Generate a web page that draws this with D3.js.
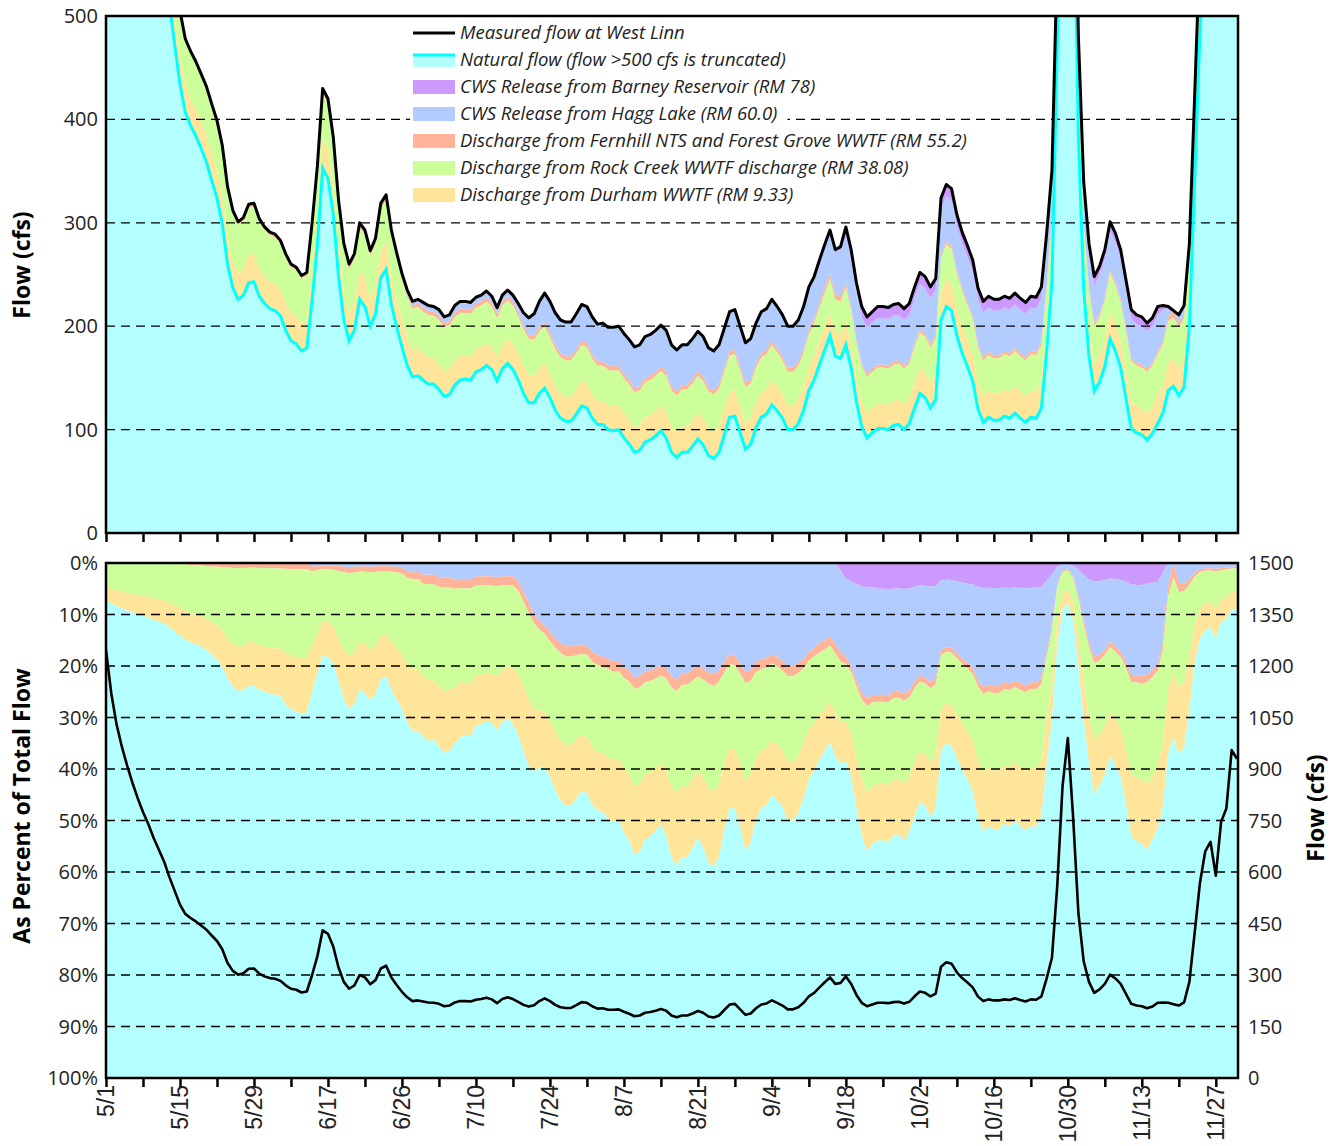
<!DOCTYPE html>
<html>
<head>
<meta charset="utf-8">
<script src="https://cdn.jsdelivr.net/npm/d3@7"></script>
<style>
body { margin: 0; background: #fff; }
svg { display: block; }
</style>
</head>
<body>
<svg></svg>
<script>
// daily values, 5/1 .. 12/1 (cfs)
var measured = [
  1247,1120,1030,965,910,860,815,775,740,700,
  665,630,585,545,505,478,466,456,444,432,
  415,399,375,335,312,301,305,318,319,304,
  296,291,289,283,270,260,257,249,252,300,
  355,430,420,383,322,280,260,270,300,293,
  273,285,319,327,293,271,251,235,224,226,
  223,220,219,216,209,211,220,224,224,223,
  228,230,234,229,218,230,235,230,222,213,
  208,212,224,232,224,213,206,204,204,212,
  221,219,209,202,203,199,199,200,193,187,
  180,182,190,192,196,201,196,182,177,182,
  182,188,195,190,179,176,182,198,214,216,
  200,184,188,203,214,217,226,219,211,200,
  200,206,219,238,248,264,279,293,274,277,
  296,274,242,219,209,214,219,219,218,221,
  222,217,222,238,252,248,238,246,324,337,
  333,308,291,278,264,237,224,229,226,226,
  229,227,232,227,223,229,228,238,290,351,
  560,850,990,760,480,340,280,248,258,274,
  301,290,274,245,216,211,209,203,208,219,
  220,219,215,211,220,280,423,568,660,688,
  589,746,785,955,930
];

var durham = [
  32,32,31,31,31,30,30,30,29,29,29,28,28,28,27,
  27,26,26,26,26,26,27,27,26,26,26,26,27,27,26,
  26,26,26,26,27,27,27,27,27,27,28,29,29,28,27,
  27,27,27,28,28,27,27,27,27,27,27,27,27,27,27,
  26,26,25,25,25,25,24,24,23,23,22,22,22,22,23,
  23,24,25,26,27,27,26,25,25,24,24,24,24,24,24,
  24,24,23,23,23,24,24,24,24,24,24,24,24,24,24,
  24,25,25,25,25,25,25,25,26,26,26,26,26,25,25,
  25,25,25,24,24,24,24,24,23,23,23,23,23,23,23,
  23,23,23,23,23,23,23,23,24,24,24,24,24,24,24,
  24,24,24,25,25,25,25,25,26,26,26,26,26,26,26,
  26,26,26,26,26,26,26,26,26,26,26,26,26,26,26,
  26,26,26,26,26,26,26,26,26,26,26,26,26,26,26,
  26,26,26,26,27,27,27,27,27,28,29,31,33,34,34,
  34,33,33,33,32
];

var rockCreek = [
  57,56,55,54,53,52,51,50,49,48,47,46,45,45,44,
  44,44,44,44,44,45,45,46,46,46,46,46,46,46,46,
  45,45,45,44,44,44,44,43,43,43,43,43,43,42,42,
  42,42,42,41,41,41,41,40,40,40,40,39,39,39,40,
  40,41,41,42,42,42,42,41,41,41,40,40,40,39,38,
  38,37,37,36,35,35,35,35,35,35,35,35,35,35,35,
  35,35,35,34,34,34,34,34,34,34,34,34,34,34,34,
  34,35,35,35,36,36,36,36,36,36,36,36,35,35,35,
  35,35,34,34,34,34,34,33,33,33,33,33,32,32,32,
  32,32,32,32,32,33,33,34,34,35,35,35,35,35,35,
  35,35,34,34,34,34,34,34,34,34,34,34,34,34,34,
  34,34,34,34,34,34,34,34,34,34,35,35,35,35,35,
  36,36,36,36,37,37,37,37,37,38,38,38,38,39,39,
  39,39,40,40,40,40,40,40,39,39,39,40,41,42,42,
  43,43,43,42,42
];

var fernhill = [
  0,0,0,0,0,0,0,0,0,0,0,0,0,0,0,
  0,2,2,2,3,3,3,3,3,3,3,3,3,3,3,
  3,3,3,3,3,3,3,3,3,3,3,3,3,3,3,
  3,3,3,3,3,3,3,3,3,3,3,3,3,3,3,
  4,4,4,4,4,4,4,4,4,4,4,4,4,4,4,
  4,4,4,4,4,4,4,4,4,4,4,4,4,4,4,
  4,4,4,4,4,4,4,4,4,4,4,4,4,4,4,
  4,4,4,4,4,4,4,4,4,4,4,4,4,4,4,
  4,4,4,4,4,4,4,4,4,4,4,4,4,4,4,
  5,5,5,5,5,4,3,3,3,3,3,3,3,3,3,
  3,3,3,3,3,3,3,3,3,3,3,3,3,3,3,
  3,3,3,3,3,3,3,3,3,3,3,3,3,3,3,
  3,3,3,3,3,3,3,3,3,3,3,3,3,3,3,
  3,3,3,3,3,3,4,6,4,3,3,3,3,3,3,
  3,3,3,3,3
];

var haggLake = [
  0,0,0,0,0,0,0,0,0,0,0,0,0,0,0,
  0,0,0,0,0,0,0,0,0,0,0,0,0,0,0,
  0,0,0,0,0,0,0,0,0,2,2,2,2,2,2,
  2,2,2,2,2,2,2,2,2,2,2,2,4,4,4,
  5,5,5,6,6,6,7,7,7,7,6,6,6,6,6,
  6,6,6,8,12,16,21,25,28,30,31,32,33,33,34,
  35,35,36,36,37,37,38,38,39,39,40,40,40,40,40,
  40,40,40,40,39,39,39,39,39,38,38,38,38,38,39,
  39,39,39,39,40,40,40,40,40,40,40,40,41,41,41,
  41,42,42,43,44,45,45,45,45,45,45,45,45,45,44,
  44,44,44,44,44,44,44,44,44,44,44,43,43,43,43,
  43,43,43,43,43,42,42,42,42,42,42,42,42,40,35,
  20,10,10,15,25,30,34,36,37,37,37,38,38,38,38,
  37,37,36,35,35,30,10,0,8,9,9,8,7,7,7,
  7,7,7,7,7
];

var barneyRes = [
  0,0,0,0,0,0,0,0,0,0,0,0,0,0,0,
  0,0,0,0,0,0,0,0,0,0,0,0,0,0,0,
  0,0,0,0,0,0,0,0,0,0,0,0,0,0,0,
  0,0,0,0,0,0,0,0,0,0,0,0,0,0,0,
  0,0,0,0,0,0,0,0,0,0,0,0,0,0,0,
  0,0,0,0,0,0,0,0,0,0,0,0,0,0,0,
  0,0,0,0,0,0,0,0,0,0,0,0,0,0,0,
  0,0,0,0,0,0,0,0,0,0,0,0,0,0,0,
  0,0,0,0,0,0,0,0,0,0,0,0,0,0,0,
  0,0,0,0,4,9,10,10,10,10,10,11,11,11,11,
  11,11,11,11,11,11,11,11,11,11,11,11,11,11,11,
  11,11,11,11,11,11,11,11,11,11,11,11,11,10,8,
  4,2,2,4,6,8,9,9,9,9,9,9,9,9,9,
  9,9,8,8,8,4,0,0,0,0,0,0,0,0,0,
  0,0,0,0,0
];

var dateLabels = ["5/1","5/15","5/29","6/17","6/26","7/10","7/24","8/7",
                  "8/21","9/4","9/18","10/2","10/16","10/30","11/13","11/27"];
var flowTicks = [0, 100, 200, 300, 400, 500];
var pctTicks = [0, 10, 20, 30, 40, 50, 60, 70, 80, 90, 100];
var rightTicks = [0, 150, 300, 450, 600, 750, 900, 1050, 1200, 1350, 1500];
var legendLabels = [
  "Measured flow at West Linn",
  "Natural flow (flow >500 cfs is truncated)",
  "CWS Release from Barney Reservoir (RM 78)",
  "CWS Release from Hagg Lake (RM 60.0)",
  "Discharge from Fernhill NTS and Forest Grove WWTF (RM 55.2)",
  "Discharge from Rock Creek WWTF discharge (RM 38.08)",
  "Discharge from Durham WWTF (RM 9.33)"
];

var colors = {
  nat: "#b3ffff", natLine: "#00ffff", barney: "#cc99ff", hagg: "#b3ccff",
  fern: "#ffb399", rock: "#ccff99", dur: "#ffe599"
};

var left = 106, right = 1238;
var top1 = 16, bot1 = 533, top2 = 563, bot2 = 1078;

var svg = d3.select("svg").attr("width", 1339).attr("height", 1146)
    .style("font-family", "'Open Sans', sans-serif");

var rows = measured.map(function (m, i) {
    var r = { total: m, dur: durham[i], rock: rockCreek[i], fern: fernhill[i],
              hagg: haggLake[i], barney: barneyRes[i] };
    r.nat = m - r.dur - r.rock - r.fern - r.hagg - r.barney;
    return r;
});
var pctRows = rows.map(function (r) {
    var o = {};
    ["nat","dur","rock","fern","hagg","barney"].forEach(function (k) { o[k] = r[k] / r.total * 100; });
    return o;
});

var x = d3.scaleLinear().domain([0, 214.2]).range([left, right]);
var yTop = d3.scaleLinear().domain([0, 500]).range([bot1, top1]);
var yPct = d3.scaleLinear().domain([0, 100]).range([top2, bot2]);
var yRight = d3.scaleLinear().domain([0, 1500]).range([bot2, top2]);

var defs = svg.append("defs");
defs.append("clipPath").attr("id", "clipTop").append("rect")
    .attr("x", left).attr("y", top1).attr("width", right - left).attr("height", bot1 - top1);
defs.append("clipPath").attr("id", "clipBot").append("rect")
    .attr("x", left).attr("y", top2).attr("width", right - left).attr("height", bot2 - top2);

// ---------- top panel: flows ----------
var topKeys = ["nat", "dur", "rock", "fern", "hagg", "barney"];
var topStack = d3.stack().keys(topKeys)(rows);
var gTop = svg.append("g").attr("clip-path", "url(#clipTop)");

var areaTop = d3.area()
    .x(function (d, i) { return x(i); })
    .y0(function (d) { return yTop(d[0]); })
    .y1(function (d) { return yTop(d[1]); });

gTop.selectAll("path.layer")
    .data(topStack)
    .enter()
    .append("path")
    .attr("class", "layer")
    .attr("d", areaTop)
    .style("fill", function (d) { return colors[d.key]; });

gTop.selectAll("line.grid")
    .data(flowTicks.slice(1, -1))
    .enter()
    .append("line")
    .attr("x1", left).attr("x2", right)
    .attr("y1", function (d) { return yTop(d); })
    .attr("y2", function (d) { return yTop(d); })
    .style("stroke", "#000").style("stroke-width", 1.3).style("stroke-dasharray", "9,6");

gTop.append("path")
    .datum(rows)
    .attr("d", d3.line().x(function (d, i) { return x(i); }).y(function (d) { return yTop(d.nat); }))
    .style("fill", "none").style("stroke", colors.natLine).style("stroke-width", 3);

gTop.append("path")
    .datum(rows)
    .attr("d", d3.line().x(function (d, i) { return x(i); }).y(function (d) { return yTop(d.total); }))
    .style("fill", "none").style("stroke", "#000").style("stroke-width", 3)
    .style("stroke-linejoin", "round");

// ---------- bottom panel: percent ----------
var botKeys = ["barney", "hagg", "fern", "rock", "dur", "nat"];
var botStack = d3.stack().keys(botKeys)(pctRows);
var gBot = svg.append("g").attr("clip-path", "url(#clipBot)");

var areaBot = d3.area()
    .x(function (d, i) { return x(i); })
    .y0(function (d) { return yPct(d[0]); })
    .y1(function (d) { return yPct(d[1]); });

gBot.selectAll("path.layer")
    .data(botStack)
    .enter()
    .append("path")
    .attr("class", "layer")
    .attr("d", areaBot)
    .style("fill", function (d) { return colors[d.key]; });

gBot.selectAll("line.grid")
    .data(pctTicks.slice(1, -1))
    .enter()
    .append("line")
    .attr("x1", left).attr("x2", right)
    .attr("y1", function (d) { return yPct(d); })
    .attr("y2", function (d) { return yPct(d); })
    .style("stroke", "#000").style("stroke-width", 1.3).style("stroke-dasharray", "9,6");

gBot.append("path")
    .datum(rows)
    .attr("d", d3.line().x(function (d, i) { return x(i); }).y(function (d) { return yRight(d.total); }))
    .style("fill", "none").style("stroke", "#000").style("stroke-width", 2.6)
    .style("stroke-linejoin", "round");

// ---------- frames, axes ----------
[[top1, bot1], [top2, bot2]].forEach(function (p) {
    svg.append("rect")
        .attr("x", left).attr("y", p[0]).attr("width", right - left).attr("height", p[1] - p[0])
        .style("fill", "none").style("stroke", "#000").style("stroke-width", 2.5);
});

var weekTicks = d3.range(0, 211, 7);
[bot1, bot2].forEach(function (yb) {
    svg.append("g")
        .attr("transform", "translate(0," + yb + ")")
        .call(d3.axisBottom(x).tickValues(weekTicks).tickSize(9).tickFormat(""))
        .call(function (g) {
            g.select(".domain").remove();
            g.selectAll("line").style("stroke", "#000").style("stroke-width", 2.5);
        });
});

svg.selectAll("text.xlab")
    .data(dateLabels)
    .enter()
    .append("text")
    .attr("class", "xlab")
    .attr("transform", function (d, i) { return "translate(" + (x(i * 14) + 8) + "," + (bot2 + 7) + ") rotate(-90)"; })
    .attr("text-anchor", "end")
    .style("font-family", "'Liberation Sans', Arial, sans-serif")
    .style("font-size", "23px").style("fill", "#222")
    .text(function (d) { return d; });

svg.selectAll("text.ytop")
    .data(flowTicks)
    .enter()
    .append("text")
    .attr("x", 98).attr("y", function (d) { return yTop(d) + 7; })
    .attr("text-anchor", "end").style("font-size", "20px").style("fill", "#222")
    .text(function (d) { return d; });

svg.selectAll("text.ypct")
    .data(pctTicks)
    .enter()
    .append("text")
    .attr("x", 98).attr("y", function (d) { return yPct(d) + 7; })
    .attr("text-anchor", "end").style("font-size", "20px").style("fill", "#222")
    .text(function (d) { return d + "%"; });

svg.selectAll("text.yright")
    .data(rightTicks)
    .enter()
    .append("text")
    .attr("x", 1248).attr("y", function (d) { return yRight(d) + 7; })
    .attr("text-anchor", "start").style("font-size", "20px").style("fill", "#222")
    .text(function (d) { return d; });

function axisTitle(txt, cx, cy) {
    svg.append("text")
        .attr("transform", "translate(" + cx + "," + cy + ") rotate(-90)")
        .attr("text-anchor", "middle")
        .style("font-size", "23px").style("font-weight", "bold").style("fill", "#000")
        .text(txt);
}
axisTitle("Flow (cfs)", 30, 265);
axisTitle("As Percent of Total Flow", 30, 806);
axisTitle("Flow (cfs)", 1324, 808);

// ---------- legend ----------
var legendKeys = ["measured", "nat", "barney", "hagg", "fern", "rock", "dur"];
var lg = svg.append("g");
legendKeys.forEach(function (k, i) {
    var cy = 33 + i * 27;
    var row = lg.append("g");
    var bg = row.append("rect").attr("x", 410).attr("y", cy - 12).attr("height", 24).style("fill", "#fff");
    if (k === "measured") {
        row.append("line").attr("x1", 413).attr("x2", 455).attr("y1", cy).attr("y2", cy)
            .style("stroke", "#000").style("stroke-width", 3);
    } else if (k === "nat") {
        row.append("rect").attr("x", 413).attr("y", cy - 6).attr("width", 42).attr("height", 13)
            .style("fill", colors.nat);
        row.append("line").attr("x1", 413).attr("x2", 455).attr("y1", cy - 5).attr("y2", cy - 5)
            .style("stroke", colors.natLine).style("stroke-width", 3);
    } else {
        row.append("rect").attr("x", 413).attr("y", cy - 7).attr("width", 42).attr("height", 14)
            .style("fill", colors[k]);
    }
    var t = row.append("text").attr("x", 460).attr("y", cy + 6)
        .style("font-size", "18.5px").style("font-style", "italic").style("fill", "#222")
        .text(legendLabels[i]);
    bg.attr("width", t.node().getComputedTextLength() + 60);
});
</script>
</body>
</html>
